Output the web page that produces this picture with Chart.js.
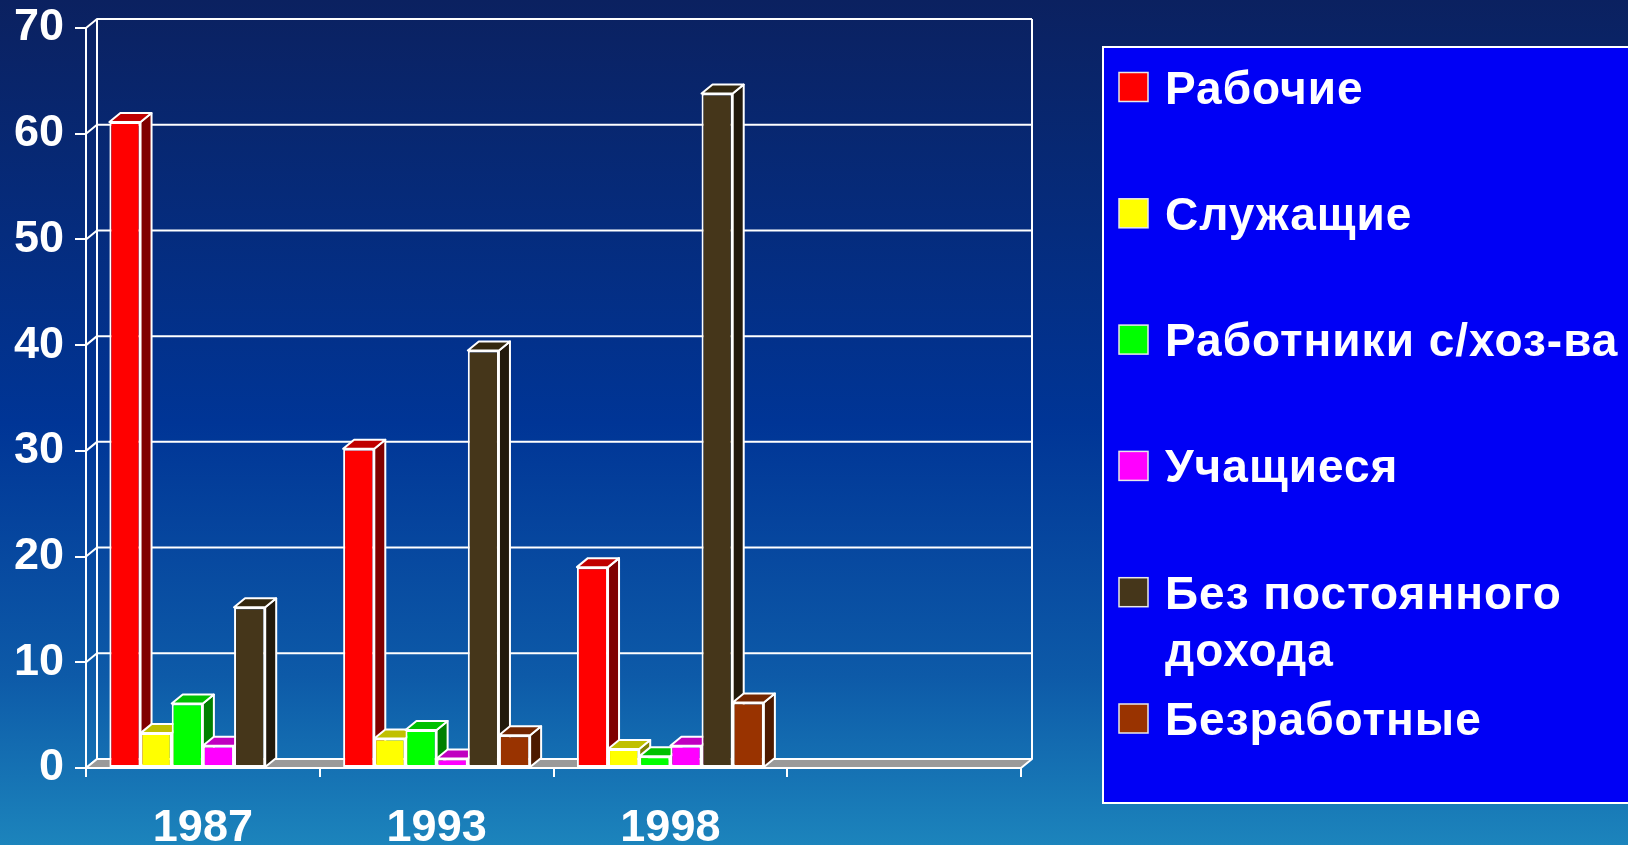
<!DOCTYPE html>
<html>
<head>
<meta charset="utf-8">
<script src="https://cdn.jsdelivr.net/npm/chart.js@4.4.0/dist/chart.umd.min.js"></script>
<style>
  html, body { margin: 0; padding: 0; overflow: hidden; background: #0a1f5c; }
  canvas { display: block; }
</style>
</head>
<body>
<canvas id="myChart" width="1628" height="845"></canvas>
<script>
const years = ['1987', '1993', '1998', ''];
const seriesNames = ['Рабочие', 'Служащие', 'Работники с/хоз-ва', 'Учащиеся', 'Без постоянного дохода', 'Безработные'];
const workers = [61.1, 30.2, 19.0, null];
const employees = [3.3, 2.8, 1.8, null];
const farmWorkers = [6.1, 3.6, 1.1, null];
const students = [2.1, 0.9, 2.1, null];
const noIncome = [15.2, 39.5, 63.8, null];
const unemployed = [0, 3.1, 6.2, null];
const yTicks = [0, 10, 20, 30, 40, 50, 60, 70];

// front / side / top colours of the 3d bars
const frontColors = ['#ff0000', '#ffff00', '#00ff00', '#ff00ff', '#45361a', '#993300'];
const sideColors = ['#800000', '#808000', '#008000', '#800080', '#221a0c', '#4d1a00'];
const topColors = ['#c00000', '#c0c000', '#00c000', '#c000c0', '#33280f', '#732600'];

const depthX = 11, depthY = 9;
const FONT = '"Liberation Sans", Arial, sans-serif';

const backdrop = {
  id: 'backdrop',
  beforeDraw(chart) {
    const { ctx, width, height } = chart;
    const g = ctx.createLinearGradient(0, 0, 0, height);
    g.addColorStop(0, '#0b2160');
    g.addColorStop(0.5, '#003596');
    g.addColorStop(0.8, '#0d5aa8');
    g.addColorStop(1, '#1c84bc');
    ctx.save();
    ctx.fillStyle = g;
    ctx.fillRect(0, 0, width, height);
    ctx.restore();
  }
};

const threeD = {
  id: 'threeD',
  beforeDatasetsDraw(chart) {
    const { ctx, chartArea: a } = chart;
    const y = chart.scales.y;
    ctx.save();
    ctx.strokeStyle = '#ffffff';
    ctx.lineWidth = 2;
    ctx.lineJoin = 'round';

    // back wall grid
    y.ticks.forEach(t => {
      const py = y.getPixelForValue(t.value);
      ctx.beginPath();
      ctx.moveTo(a.left, py);
      ctx.lineTo(a.left + depthX, py - depthY);
      ctx.lineTo(a.right + depthX, py - depthY);
      ctx.stroke();
    });
    const wallTop = y.getPixelForValue(y.max) - depthY;
    const base = y.getPixelForValue(0);
    ctx.beginPath();
    ctx.moveTo(a.left + depthX, wallTop);
    ctx.lineTo(a.left + depthX, base - depthY);
    ctx.moveTo(a.right + depthX, wallTop);
    ctx.lineTo(a.right + depthX, base - depthY);
    ctx.stroke();

    // floor
    ctx.beginPath();
    ctx.moveTo(a.left, base);
    ctx.lineTo(a.right, base);
    ctx.lineTo(a.right + depthX, base - depthY);
    ctx.lineTo(a.left + depthX, base - depthY);
    ctx.closePath();
    ctx.fillStyle = '#9a9a9a';
    ctx.fill();
    ctx.stroke();

    // sides and tops, left to right
    chart.data.datasets.forEach((ds, i) => {
      const meta = chart.getDatasetMeta(i);
      meta.data.forEach(bar => {
        const p = bar.getProps(['x', 'y', 'base', 'width'], true);
        if (bar.skip || isNaN(p.y) || p.base - p.y < 1) return;
        const l = p.x - p.width / 2, r = p.x + p.width / 2;
        ctx.beginPath();
        ctx.moveTo(r, p.base);
        ctx.lineTo(r, p.y);
        ctx.lineTo(r + depthX, p.y - depthY);
        ctx.lineTo(r + depthX, p.base - depthY);
        ctx.closePath();
        ctx.fillStyle = sideColors[i];
        ctx.fill();
        ctx.stroke();

        ctx.beginPath();
        ctx.moveTo(l, p.y);
        ctx.lineTo(r, p.y);
        ctx.lineTo(r + depthX, p.y - depthY);
        ctx.lineTo(l + depthX, p.y - depthY);
        ctx.closePath();
        ctx.fillStyle = topColors[i];
        ctx.fill();
        ctx.stroke();
      });
    });
    ctx.restore();
  }
};

function wrapText(ctx, text, maxWidth) {
  const words = text.split(' ');
  const lines = [];
  let line = '';
  words.forEach(w => {
    const test = line ? line + ' ' + w : w;
    if (line && ctx.measureText(test).width > maxWidth) {
      lines.push(line);
      line = w;
    } else {
      line = test;
    }
  });
  if (line) lines.push(line);
  return lines;
}

const sideLegend = {
  id: 'sideLegend',
  afterDraw(chart) {
    const { ctx } = chart;
    ctx.save();
    ctx.fillStyle = '#0000f5';
    ctx.fillRect(1103, 47, 560, 756);
    ctx.strokeStyle = '#ffffff';
    ctx.lineWidth = 2;
    ctx.strokeRect(1103, 47, 560, 756);

    ctx.font = 'bold 46px ' + FONT;
    ctx.letterSpacing = '1px';
    ctx.textBaseline = 'alphabetic';
    chart.data.datasets.forEach((ds, i) => {
      const cy = 87 + i * 126.3;
      ctx.fillStyle = ds.backgroundColor;
      ctx.fillRect(1119, cy - 14.5, 29, 29);
      ctx.strokeStyle = '#e8e8e8';
      ctx.lineWidth = 1.5;
      ctx.strokeRect(1119, cy - 14.5, 29, 29);
      ctx.fillStyle = '#ffffff';
      wrapText(ctx, ds.label, 470).forEach((line, k) => {
        ctx.fillText(line, 1165, cy + 16.5 + k * 57);
      });
    });
    ctx.restore();
  }
};

const seriesValues = [workers, employees, farmWorkers, students, noIncome, unemployed];

const ctx = document.getElementById('myChart').getContext('2d');
const myChart = new Chart(ctx, {
  type: 'bar',
  data: {
    labels: years,
    datasets: seriesNames.map((name, i) => ({
      label: name,
      data: seriesValues[i],
      backgroundColor: frontColors[i],
      borderColor: '#ffffff',
      borderWidth: 2,
      borderSkipped: false,
      categoryPercentage: 0.8,
      barPercentage: 1.0
    }))
  },
  options: {
    responsive: false,
    devicePixelRatio: 1,
    animation: false,
    events: [],
    layout: { padding: { left: 0, right: 607, top: 28, bottom: 0 } },
    plugins: {
      legend: { display: false },
      tooltip: { enabled: false }
    },
    scales: {
      x: {
        offset: true,
        grid: { offset: true, drawOnChartArea: false, color: '#ffffff', lineWidth: 2, tickLength: 9 },
        border: { color: '#ffffff', width: 2 },
        ticks: { color: '#ffffff', font: { family: FONT, size: 45, weight: 'bold' }, padding: 25, maxRotation: 0 },
        afterFit(scale) { scale.height = 77; scale.paddingLeft = 0; scale.paddingRight = 0; }
      },
      y: {
        min: 0,
        max: 70,
        afterBuildTicks(scale) { scale.ticks = yTicks.map(v => ({ value: v })); },
        grid: { drawOnChartArea: false, color: '#ffffff', lineWidth: 2, tickLength: 11 },
        border: { color: '#ffffff', width: 2 },
        ticks: { color: '#ffffff', font: { family: FONT, size: 45, weight: 'bold' }, padding: 11 },
        afterFit(scale) { scale.width = 86; scale.paddingTop = 0; scale.paddingBottom = 0; }
      }
    }
  },
  plugins: [backdrop, threeD, sideLegend]
});
</script>
</body>
</html>
